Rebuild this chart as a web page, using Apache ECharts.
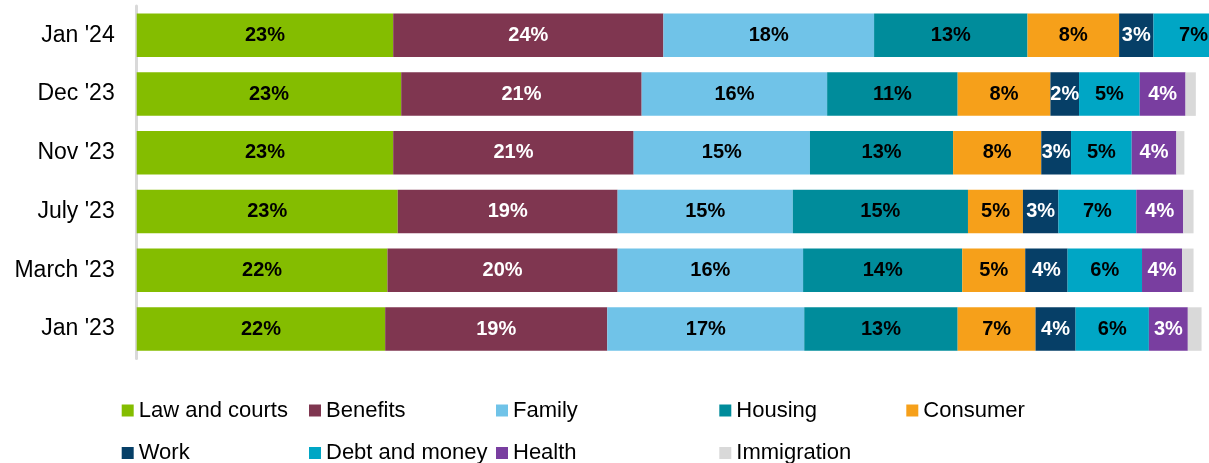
<!DOCTYPE html>
<html>
<head>
<meta charset="utf-8">
<script src="https://cdn.jsdelivr.net/npm/echarts@6/dist/echarts.min.js"></script>
<style>
  html, body { margin: 0; padding: 0; background: #fff; }
  #main { width: 1209px; height: 463px; }
</style>
</head>
<body>
<div id="main"></div>
<script>
// categories, top to bottom
var months = ["Jan '24", "Dec '23", "Nov '23", "July '23", "March '23", "Jan '23"];

// share of enquiries by topic
var lawAndCourts = [22.4, 23.1, 22.4, 22.8, 21.9, 21.7];
var benefits     = [23.6, 21.0, 21.0, 19.2, 20.1, 19.4];
var family       = [18.4, 16.2, 15.4, 15.3, 16.2, 17.2];
var housing      = [13.4, 11.4, 12.5, 15.3, 13.9, 13.4];
var consumer     = [8.0, 8.1, 7.7, 4.8, 5.5, 6.8];
var work         = [3.0, 2.5, 2.6, 3.1, 3.7, 3.5];
var debtAndMoney = [7.0, 5.3, 5.3, 6.8, 6.5, 6.4];
var health       = [3.6, 4.0, 3.9, 4.1, 3.5, 3.4];
var immigration  = [0.9, 0.9, 0.7, 0.9, 1.0, 1.2];

// printed labels
var lawLabels      = [23, 23, 23, 23, 22, 22];
var benefitsLabels = [24, 21, 21, 19, 20, 19];
var familyLabels   = [18, 16, 15, 15, 16, 17];
var housingLabels  = [13, 11, 13, 15, 14, 13];
var consumerLabels = [8, 8, 8, 5, 5, 7];
var workLabels     = [3, 2, 3, 3, 4, 4];
var debtLabels     = [7, 5, 5, 7, 6, 6];
var healthLabels   = [4, 4, 4, 4, 4, 3];

var font = "'Liberation Sans', Arial, sans-serif";

var topics = [
  { name: 'Law and courts', data: lawAndCourts, labels: lawLabels, color: '#84bd00', text: '#000' },
  { name: 'Benefits', data: benefits, labels: benefitsLabels, color: '#7f3650', text: '#fff' },
  { name: 'Family', data: family, labels: familyLabels, color: '#70c3e8', text: '#000' },
  { name: 'Housing', data: housing, labels: housingLabels, color: '#008c9b', text: '#000' },
  { name: 'Consumer', data: consumer, labels: consumerLabels, color: '#f6a01a', text: '#000' },
  { name: 'Work', data: work, labels: workLabels, color: '#063f67', text: '#fff' },
  { name: 'Debt and money', data: debtAndMoney, labels: debtLabels, color: '#00a6c5', text: '#000' },
  { name: 'Health', data: health, labels: healthLabels, color: '#793ea0', text: '#fff' },
  { name: 'Immigration', data: immigration, labels: null, color: '#d9d9d9', text: '#000' }
];

var series = topics.map(function (t) {
  return {
    name: t.name,
    type: 'bar',
    stack: 'total',
    barWidth: 43.5,
    clip: false,
    data: t.data,
    itemStyle: { color: t.color },
    label: {
      show: !!t.labels,
      position: 'inside',
      color: t.text,
      fontFamily: font,
      fontWeight: 'bold',
      fontSize: 20,
      formatter: function (p) { return t.labels ? t.labels[p.dataIndex] + '%' : ''; }
    }
  };
});

// legend laid out in columns like the original
var legendCols = [
  { left: 121.7, names: ['Law and courts', 'Work'] },
  { left: 309, names: ['Benefits', 'Debt and money'] },
  { left: 496, names: ['Family', 'Health'] },
  { left: 719.3, names: ['Housing', 'Immigration'] },
  { left: 906.3, names: ['Consumer'] }
];
var legends = legendCols.map(function (c) {
  return {
    data: c.names,
    orient: 'vertical',
    left: c.left,
    top: 399.5,
    height: 120,
    padding: 0,
    itemGap: 20.5,
    itemWidth: 12,
    itemHeight: 12,
    icon: 'rect',
    selectedMode: false,
    textStyle: { fontFamily: font, fontSize: 22, color: '#000' }
  };
});

var chart = echarts.init(document.getElementById('main'));
chart.setOption({
  animation: false,
  grid: { left: 136.7, right: 0, top: 6, bottom: 104.6 },
  // the plot runs past the right edge of the picture; 93.65 sits at the edge
  xAxis: { type: 'value', min: 0, max: 93.65, show: false },
  yAxis: {
    type: 'category',
    data: months,
    inverse: true,
    axisTick: { show: false },
    axisLine: { show: true, lineStyle: { color: '#d9d9d9', width: 3 } },
    axisLabel: { fontFamily: font, fontSize: 23, color: '#000', margin: 22 }
  },
  legend: legends,
  series: series
});
</script>
</body>
</html>
